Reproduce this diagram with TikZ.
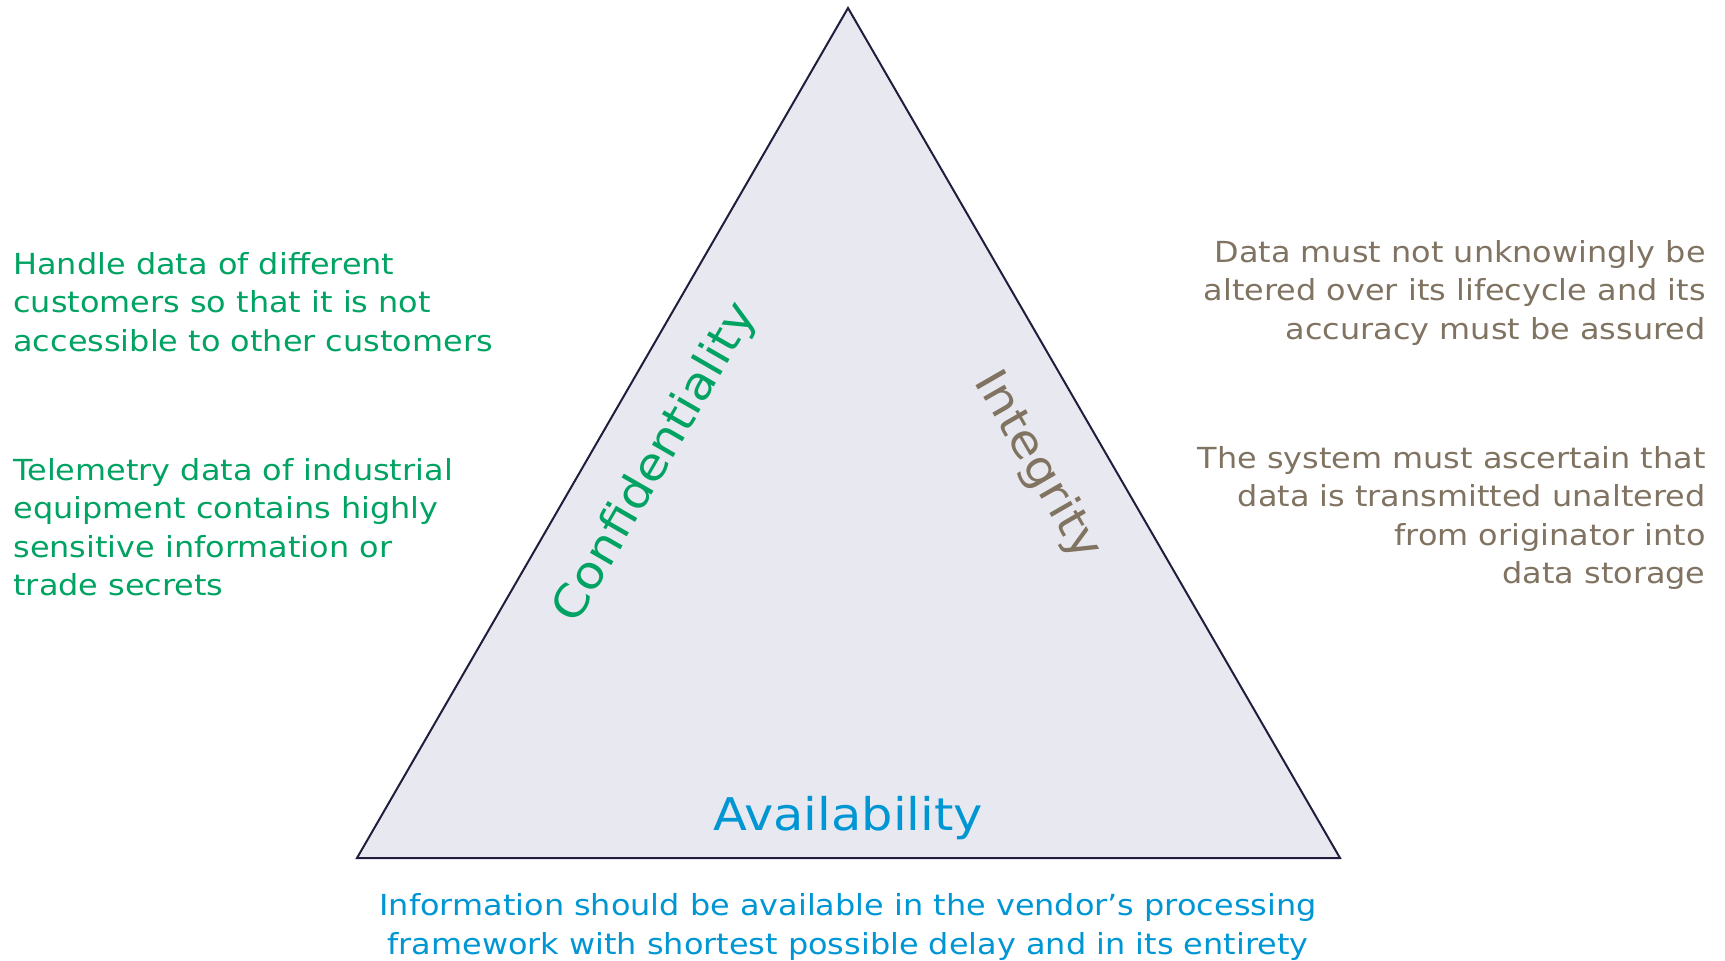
\documentclass[tikz,border=0pt]{standalone}
\usepackage{fontspec}
\setmainfont{DejaVu Sans}[FakeStretch=1.1]
\definecolor{cgreen}{RGB}{0,163,98}
\definecolor{cbrown}{RGB}{128,115,97}
\definecolor{cblue}{RGB}{0,150,212}
\definecolor{trifill}{RGB}{232,233,240}
\definecolor{triline}{RGB}{32,30,60}
\tikzset{
  note/.style={inner sep=0pt, font=\fontsize{14.5}{19.25}\selectfont},
  pillar/.style={inner sep=0pt, font=\fontsize{22.5}{27}\selectfont},
}
\begin{document}
\begin{tikzpicture}[x=0.5pt,y=-0.5pt]
\useasboundingbox (0,0) rectangle (1725,960);
% the CIA triangle
\coordinate (top) at (848,8);
\coordinate (bl) at (357,858);
\coordinate (br) at (1340,858);
\draw[fill=trifill, draw=triline, line width=1pt, line join=miter] (top) -- (bl) -- (br) -- cycle;
% pillar labels
\node[pillar, text=cgreen, rotate=60] (conf) at (656,463) {Confidentiality};
\node[pillar, text=cbrown, rotate=-60] (integ) at (1037,466) {Integrity};
\node[pillar, text=cblue, anchor=base] (avail) at (848,830) {Availability};
% confidentiality notes (anchored at the baseline of their last line)
\node[note, text=cgreen, align=left, anchor=base west] (c1) at (13,351)
  {Handle data of different\\customers so that it is not\\accessible to other customers};
\node[note, text=cgreen, align=left, anchor=base west] (c2) at (13,595.5)
  {Telemetry data of industrial\\equipment contains highly\\sensitive information or\\trade secrets};
% integrity notes
\node[note, text=cbrown, align=right, anchor=base east] (i1) at (1706,339)
  {Data must not unknowingly be\\altered over its lifecycle and its\\accuracy must be assured};
\node[note, text=cbrown, align=right, anchor=base east] (i2) at (1706,583.5)
  {The system must ascertain that\\data is transmitted unaltered\\from originator into\\data storage};
% availability note
\node[note, text=cblue, align=center, anchor=base] (a1) at (848,954)
  {Information should be available in the vendor’s processing\\framework with shortest possible delay and in its entirety};
\end{tikzpicture}
\end{document}
